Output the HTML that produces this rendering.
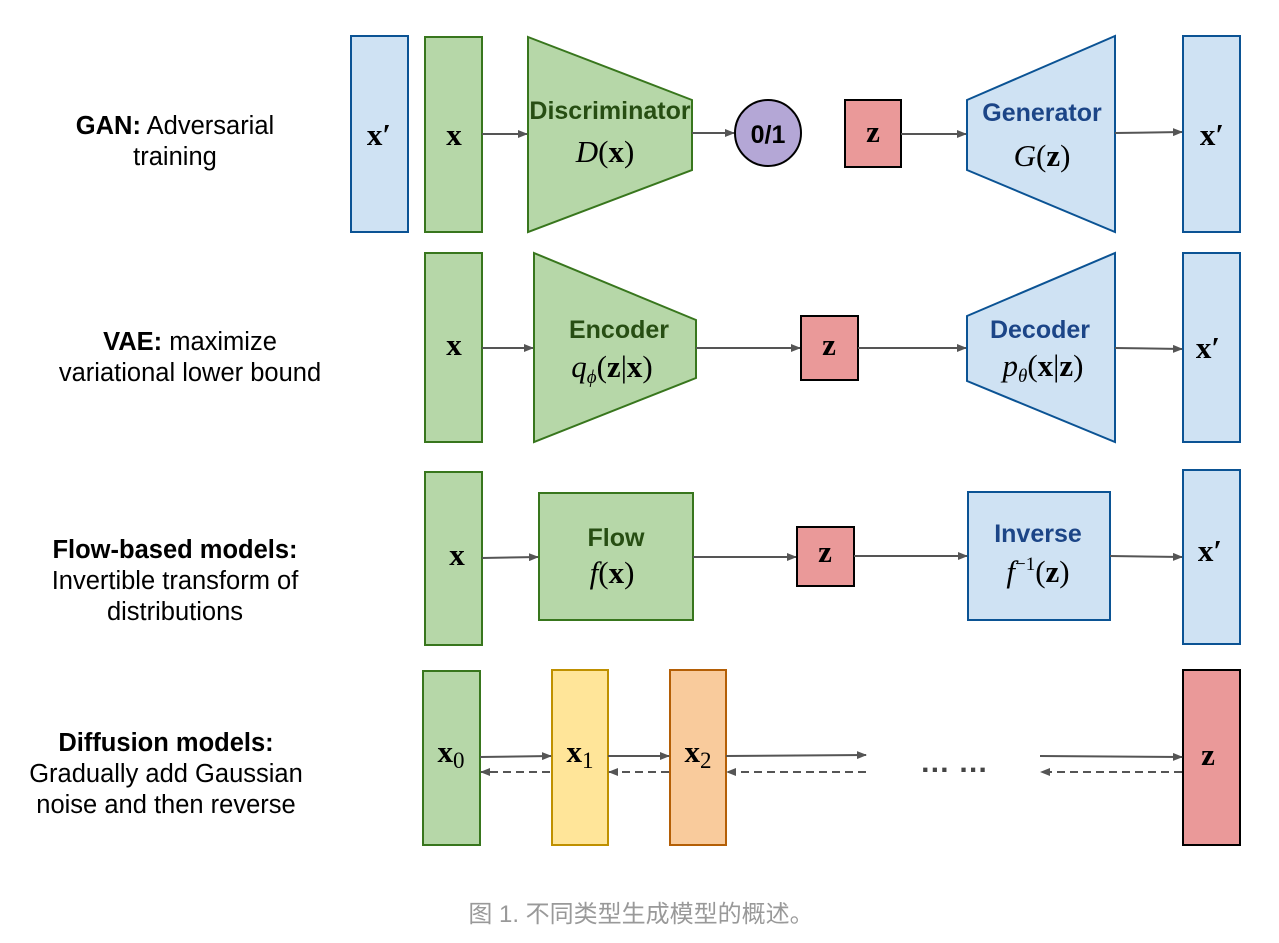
<!DOCTYPE html>
<html><head><meta charset="utf-8"><style>
html,body{margin:0;padding:0;background:#fff;}
svg{display:block}
.lbl{font-family:"Liberation Sans",sans-serif;font-size:25.5px;fill:#000;text-anchor:middle}
.m{font-family:"Liberation Serif",serif;font-size:31px;text-anchor:middle;fill:#000}
.t{font-family:"Liberation Sans",sans-serif;font-weight:bold;font-size:25px;text-anchor:middle}
</style></head><body>
<svg width="1279" height="943" viewBox="0 0 1279 943" xmlns="http://www.w3.org/2000/svg">
<defs>
<marker id="a" markerWidth="10" markerHeight="8" refX="9" refY="4" orient="auto" markerUnits="userSpaceOnUse"><path d="M0,0 L10,4 L0,8 z" fill="#555"/></marker>
</defs>
<g stroke-width="2">
<text class="lbl" x="175" y="134"><tspan font-weight="bold">GAN:</tspan> Adversarial</text>
<text class="lbl" x="175" y="165">training</text>
<text class="lbl" x="190" y="350"><tspan font-weight="bold">VAE:</tspan> maximize</text>
<text class="lbl" x="190" y="381">variational lower bound</text>
<text class="lbl" x="175" y="558" font-weight="bold">Flow-based models:</text>
<text class="lbl" x="175" y="589">Invertible transform of</text>
<text class="lbl" x="175" y="620">distributions</text>
<text class="lbl" x="166" y="751" font-weight="bold">Diffusion models:</text>
<text class="lbl" x="166" y="782">Gradually add Gaussian</text>
<text class="lbl" x="166" y="813">noise and then reverse</text>

<!-- GAN -->
<rect x="351" y="36" width="57" height="196" fill="#cfe2f3" stroke="#0b5394"/>
<text class="m" x="379" y="145" font-weight="bold">x′</text>
<rect x="425" y="37" width="57" height="195" fill="#b6d7a8" stroke="#38761d"/>
<text class="m" x="454" y="145" font-weight="bold">x</text>
<polygon points="528,37 692,100 692,170 528,232" fill="#b6d7a8" stroke="#38761d"/>
<text class="t" x="610" y="119" fill="#274e13" font-size="21">Discriminator</text>
<text class="m" x="605" y="162"><tspan font-style="italic">D</tspan>(<tspan font-weight="bold">x</tspan>)</text>
<line x1="482" y1="134" x2="527" y2="134" stroke="#555" marker-end="url(#a)"/>
<line x1="692" y1="133" x2="734" y2="133" stroke="#555" marker-end="url(#a)"/>
<circle cx="768" cy="133" r="33" fill="#b4a7d6" stroke="#000"/>
<text class="t" x="768" y="143" font-size="26" fill="#000">0/1</text>
<rect x="845" y="100" width="56" height="67" fill="#ea9999" stroke="#000"/>
<text class="m" x="873" y="142" font-weight="bold">z</text>
<line x1="901" y1="134" x2="966" y2="134" stroke="#555" marker-end="url(#a)"/>
<polygon points="967,100 1115,36 1115,232 967,170" fill="#cfe2f3" stroke="#0b5394"/>
<text class="t" x="1042" y="121" fill="#1c4587">Generator</text>
<text class="m" x="1042" y="166"><tspan font-style="italic">G</tspan>(<tspan font-weight="bold">z</tspan>)</text>
<line x1="1115" y1="133" x2="1182" y2="132" stroke="#555" marker-end="url(#a)"/>
<rect x="1183" y="36" width="57" height="196" fill="#cfe2f3" stroke="#0b5394"/>
<text class="m" x="1212" y="145" font-weight="bold">x′</text>

<!-- VAE -->
<rect x="425" y="253" width="57" height="189" fill="#b6d7a8" stroke="#38761d"/>
<text class="m" x="454" y="355" font-weight="bold">x</text>
<line x1="482" y1="348" x2="533" y2="348" stroke="#555" marker-end="url(#a)"/>
<polygon points="534,253 696,320 696,378 534,442" fill="#b6d7a8" stroke="#38761d"/>
<text class="t" x="619" y="338" fill="#274e13">Encoder</text>
<text class="m" x="612" y="377"><tspan font-style="italic">q</tspan><tspan font-style="italic" font-size="19" dy="6">ϕ</tspan><tspan dy="-6">(</tspan><tspan font-weight="bold">z</tspan>|<tspan font-weight="bold">x</tspan>)</text>
<line x1="696" y1="348" x2="800" y2="348" stroke="#555" marker-end="url(#a)"/>
<rect x="801" y="316" width="57" height="64" fill="#ea9999" stroke="#000"/>
<text class="m" x="829" y="355" font-weight="bold">z</text>
<line x1="858" y1="348" x2="966" y2="348" stroke="#555" marker-end="url(#a)"/>
<polygon points="967,316 1115,253 1115,442 967,381" fill="#cfe2f3" stroke="#0b5394"/>
<text class="t" x="1040" y="338" fill="#1c4587">Decoder</text>
<text class="m" x="1043" y="376"><tspan font-style="italic">p</tspan><tspan font-style="italic" font-size="19" dy="6">θ</tspan><tspan dy="-6">(</tspan><tspan font-weight="bold">x</tspan>|<tspan font-weight="bold">z</tspan>)</text>
<line x1="1115" y1="348" x2="1182" y2="349" stroke="#555" marker-end="url(#a)"/>
<rect x="1183" y="253" width="57" height="189" fill="#cfe2f3" stroke="#0b5394"/>
<text class="m" x="1208" y="358" font-weight="bold">x′</text>

<!-- Flow -->
<rect x="425" y="472" width="57" height="173" fill="#b6d7a8" stroke="#38761d"/>
<text class="m" x="457" y="565" font-weight="bold">x</text>
<line x1="482" y1="558" x2="538" y2="557" stroke="#555" marker-end="url(#a)"/>
<rect x="539" y="493" width="154" height="127" fill="#b6d7a8" stroke="#38761d"/>
<text class="t" x="616" y="546" fill="#274e13">Flow</text>
<text class="m" x="612" y="583"><tspan font-style="italic">f</tspan>(<tspan font-weight="bold">x</tspan>)</text>
<line x1="693" y1="557" x2="796" y2="557" stroke="#555" marker-end="url(#a)"/>
<rect x="797" y="527" width="57" height="59" fill="#ea9999" stroke="#000"/>
<text class="m" x="825" y="562" font-weight="bold">z</text>
<line x1="854" y1="556" x2="967" y2="556" stroke="#555" marker-end="url(#a)"/>
<rect x="968" y="492" width="142" height="128" fill="#cfe2f3" stroke="#0b5394"/>
<text class="t" x="1038" y="542" fill="#1c4587">Inverse</text>
<text class="m" x="1038" y="582"><tspan font-style="italic">f</tspan><tspan font-size="19" dy="-12">−1</tspan><tspan dy="12">(</tspan><tspan font-weight="bold">z</tspan>)</text>
<line x1="1110" y1="556" x2="1182" y2="557" stroke="#555" marker-end="url(#a)"/>
<rect x="1183" y="470" width="57" height="174" fill="#cfe2f3" stroke="#0b5394"/>
<text class="m" x="1210" y="561" font-weight="bold">x′</text>

<!-- Diffusion -->
<rect x="423" y="671" width="57" height="174" fill="#b6d7a8" stroke="#38761d"/>
<text class="m" x="451" y="762" font-size="33"><tspan font-weight="bold">x</tspan><tspan font-size="23" dy="6">0</tspan></text>
<rect x="552" y="670" width="56" height="175" fill="#ffe599" stroke="#bf9000"/>
<text class="m" x="580" y="762" font-size="33"><tspan font-weight="bold">x</tspan><tspan font-size="23" dy="6">1</tspan></text>
<rect x="670" y="670" width="56" height="175" fill="#f9cb9c" stroke="#b45f06"/>
<text class="m" x="698" y="762" font-size="33"><tspan font-weight="bold">x</tspan><tspan font-size="23" dy="6">2</tspan></text>
<rect x="1183" y="670" width="57" height="175" fill="#ea9999" stroke="#000"/>
<text class="m" x="1208" y="765" font-weight="bold">z</text>
<g stroke="#555" marker-end="url(#a)">
<line x1="480" y1="757" x2="551" y2="756"/>
<line x1="608" y1="756" x2="669" y2="756"/>
<line x1="726" y1="756" x2="866" y2="755"/>
<line x1="1040" y1="756" x2="1182" y2="757"/>
</g>
<g stroke="#555" stroke-dasharray="8,5" marker-end="url(#a)">
<line x1="550" y1="772" x2="481" y2="772"/>
<line x1="669" y1="772" x2="609" y2="772"/>
<line x1="866" y1="772" x2="727" y2="772"/>
<line x1="1182" y1="772" x2="1041" y2="772"/>
</g>
<text x="954" y="772" font-family="Liberation Sans,sans-serif" font-weight="bold" font-size="30" fill="#444" text-anchor="middle">… …</text>
</g>
<text x="641" y="922" font-family="Liberation Sans,'Noto Sans CJK SC',sans-serif" font-size="24" fill="#999" text-anchor="middle">图 1. 不同类型生成模型的概述。</text>
</svg>
</body></html>
